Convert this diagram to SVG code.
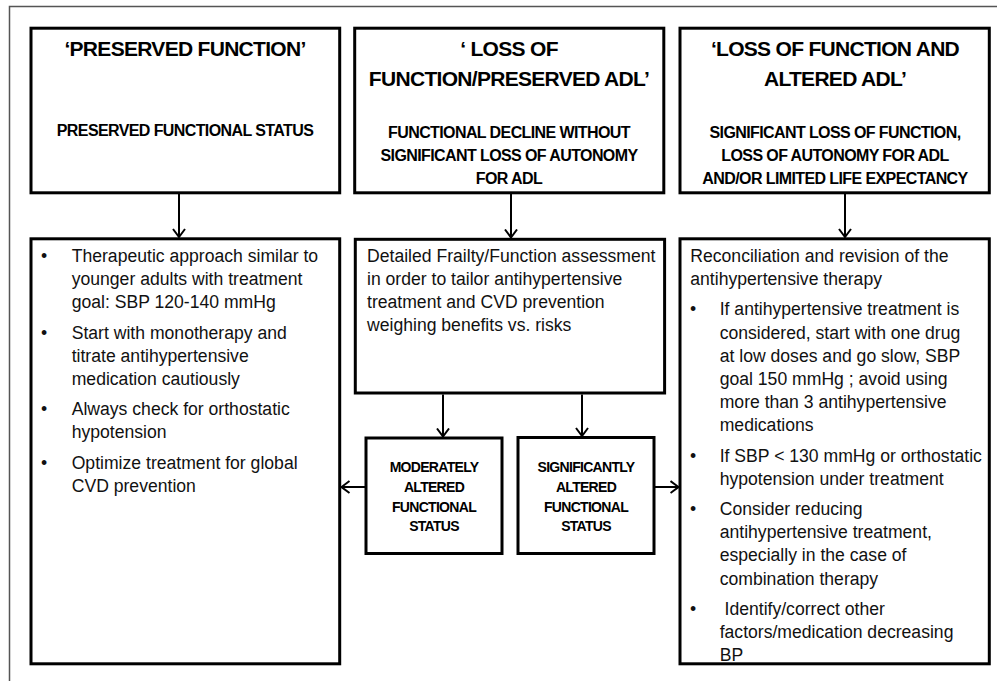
<svg xmlns="http://www.w3.org/2000/svg" width="997" height="681" viewBox="0 0 997 681">
<style>
.box{fill:#fff;stroke:#000;stroke-width:3}
.h{font-family:"Liberation Sans",Arial,sans-serif;font-weight:bold;font-size:21px;letter-spacing:-0.7px;fill:#000;text-anchor:middle}
.s{font-family:"Liberation Sans",Arial,sans-serif;font-weight:bold;font-size:16px;letter-spacing:-0.6px;fill:#000;text-anchor:middle}
.m{font-family:"Liberation Sans",Arial,sans-serif;font-weight:bold;font-size:14px;letter-spacing:-0.7px;fill:#000;text-anchor:middle}
.t{font-family:"Liberation Sans",Arial,sans-serif;font-size:17.6px;fill:#111}
.c{fill:none;stroke:#000;stroke-width:2}
</style>
<defs>
<marker id="arr" markerUnits="userSpaceOnUse" viewBox="0 0 10 14" refX="9" refY="7" markerWidth="10" markerHeight="14" orient="auto">
<path d="M1,1 L9,7 L1,13" fill="none" stroke="#000" stroke-width="2"/>
</marker>
</defs>
<rect width="997" height="681" fill="#fff"/>
<path d="M9.5,681 V6.5 H997" fill="none" stroke="#555" stroke-width="1.5"/>

<g id="connectors">
<path class="c" d="M179,194 V237" marker-end="url(#arr)"/>
<path class="c" d="M511,194 V237.5" marker-end="url(#arr)"/>
<path class="c" d="M845,194 V237" marker-end="url(#arr)"/>
<path class="c" d="M443,394.5 V436.5" marker-end="url(#arr)"/>
<path class="c" d="M582,394.5 V436" marker-end="url(#arr)"/>
<path class="c" d="M366,487 H341.5" marker-end="url(#arr)"/>
<path class="c" d="M654,487 H678.5" marker-end="url(#arr)"/>
</g>

<g id="preserved-function">
<rect class="box" x="31" y="28.2" width="308.7" height="164.6"/>
<text class="h" x="185" y="56">‘PRESERVED FUNCTION’</text>
<text class="s" x="185" y="136">PRESERVED FUNCTIONAL STATUS</text>
</g>

<g id="loss-function-preserved-adl">
<rect class="box" x="354.7" y="28.2" width="309.1" height="164.6"/>
<text class="h" x="509" y="56">‘ LOSS OF</text>
<text class="h" x="509" y="86">FUNCTION/PRESERVED ADL’</text>
<text class="s" x="509" y="137.5">FUNCTIONAL DECLINE WITHOUT</text>
<text class="s" x="509" y="160.7">SIGNIFICANT LOSS OF AUTONOMY</text>
<text class="s" x="509" y="184">FOR ADL</text>
</g>

<g id="loss-function-altered-adl">
<rect class="box" x="680" y="28.2" width="309.3" height="164.6"/>
<text class="h" x="835" y="56">‘LOSS OF FUNCTION AND</text>
<text class="h" x="835" y="86">ALTERED ADL’</text>
<text class="s" x="835" y="137.5">SIGNIFICANT LOSS OF FUNCTION,</text>
<text class="s" x="835" y="160.7">LOSS OF AUTONOMY FOR ADL</text>
<text class="s" x="835" y="184">AND/OR LIMITED LIFE EXPECTANCY</text>
</g>

<g id="preserved-treatment">
<rect class="box" x="31" y="238.8" width="308.7" height="425"/>
<text class="t" x="41" y="261.7">•</text>
<text class="t" x="71.7" y="261.7">Therapeutic approach similar to</text>
<text class="t" x="71.7" y="284.8">younger adults with treatment</text>
<text class="t" x="71.7" y="307.9">goal: SBP 120-140 mmHg</text>
<text class="t" x="41" y="338.5">•</text>
<text class="t" x="71.7" y="338.5">Start with monotherapy and</text>
<text class="t" x="71.7" y="361.6">titrate antihypertensive</text>
<text class="t" x="71.7" y="384.7">medication cautiously</text>
<text class="t" x="41" y="415.3">•</text>
<text class="t" x="71.7" y="415.3">Always check for orthostatic</text>
<text class="t" x="71.7" y="438.4">hypotension</text>
<text class="t" x="41" y="469">•</text>
<text class="t" x="71.7" y="469">Optimize treatment for global</text>
<text class="t" x="71.7" y="492.1">CVD prevention</text>
</g>

<g id="frailty-assessment">
<rect class="box" x="355.3" y="239.3" width="309.3" height="153.7"/>
<text class="t" x="367" y="261.7">Detailed Frailty/Function assessment</text>
<text class="t" x="367" y="284.8">in order to tailor antihypertensive</text>
<text class="t" x="367" y="307.9">treatment and CVD prevention</text>
<text class="t" x="367" y="331">weighing benefits vs. risks</text>
</g>

<g id="moderately-altered">
<rect class="box" x="366" y="438" width="136" height="115.5"/>
<text class="m" x="434" y="472.3">MODERATELY</text>
<text class="m" x="434" y="492">ALTERED</text>
<text class="m" x="434" y="511.7">FUNCTIONAL</text>
<text class="m" x="434" y="531.3">STATUS</text>
</g>

<g id="significantly-altered">
<rect class="box" x="518" y="437.5" width="136" height="116"/>
<text class="m" x="586" y="471.7">SIGNIFICANTLY</text>
<text class="m" x="586" y="491.7">ALTERED</text>
<text class="m" x="586" y="511.7">FUNCTIONAL</text>
<text class="m" x="586" y="531.3">STATUS</text>
</g>

<g id="altered-treatment">
<rect class="box" x="680" y="238.8" width="309.3" height="425"/>
<text class="t" x="690.3" y="261.7">Reconciliation and revision of the</text>
<text class="t" x="690.3" y="284.8">antihypertensive therapy</text>
<text class="t" x="690" y="315.4">•</text>
<text class="t" x="719.7" y="315.4">If antihypertensive treatment is</text>
<text class="t" x="719.7" y="338.5">considered, start with one drug</text>
<text class="t" x="719.7" y="361.6">at low doses and go slow, SBP</text>
<text class="t" x="719.7" y="384.7">goal 150 mmHg ; avoid using</text>
<text class="t" x="719.7" y="407.8">more than 3 antihypertensive</text>
<text class="t" x="719.7" y="430.9">medications</text>
<text class="t" x="690" y="461.5">•</text>
<text class="t" x="719.7" y="461.5">If SBP &lt; 130 mmHg or orthostatic</text>
<text class="t" x="719.7" y="484.6">hypotension under treatment</text>
<text class="t" x="690" y="515.2">•</text>
<text class="t" x="719.7" y="515.2">Consider reducing</text>
<text class="t" x="719.7" y="538.3">antihypertensive treatment,</text>
<text class="t" x="719.7" y="561.4">especially in the case of</text>
<text class="t" x="719.7" y="584.5">combination therapy</text>
<text class="t" x="690" y="615.1">•</text>
<text class="t" x="724.5" y="615.1">Identify/correct other</text>
<text class="t" x="719.7" y="638.2">factors/medication decreasing</text>
<text class="t" x="719.7" y="661.3">BP</text>
</g>
</svg>
